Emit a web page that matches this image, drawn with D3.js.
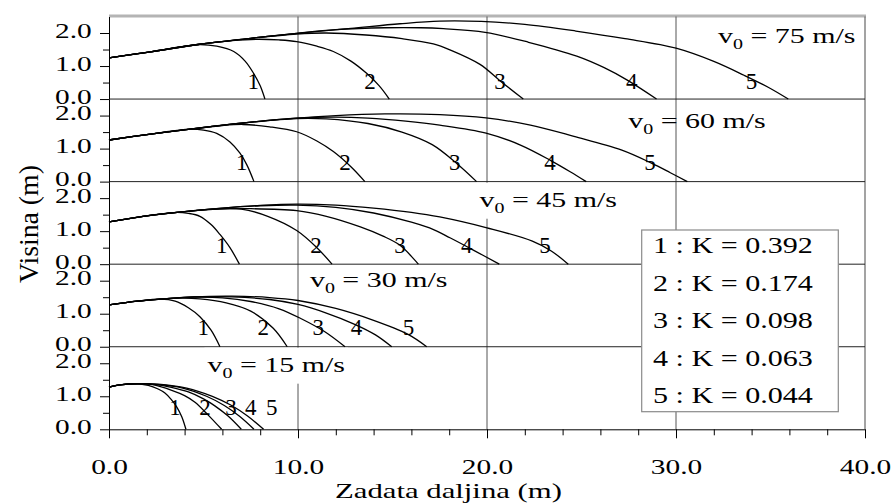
<!DOCTYPE html>
<html><head><meta charset="utf-8">
<script src="https://cdn.jsdelivr.net/npm/d3@7"></script>
<style>
html,body{margin:0;padding:0;background:#fff;}
svg{display:block;}
text{font-family:"Liberation Serif","Times New Roman",serif;fill:#000;}
</style></head><body>
<svg id="chart" width="893" height="503"></svg>
<script>
// ---------------- data ----------------
const velocities = [75, 60, 45, 30, 15];
const kValues = ["0.392", "0.174", "0.098", "0.063", "0.044"];
const curveIds = ["1", "2", "3", "4", "5"];
const xTicks = [0,2,4,6,8,10,12,14,16,18,20,22,24,26,28,30,32,34,36,38,40];
const xMajor = [0,10,20,30,40];
const yTicks = [0,0.5,1,1.5,2];
const yMajor = [0,1,2];
const xTitle = "Zadata daljina (m)";
const yTitle = "Visina (m)";

const traj75 = [
 [[0,1.25],[2.2,1.43],[4,1.6],[4.8,1.65],[5.7,1.6],[6.6,1.44],[7.2,1.15],[7.65,0.78],[8.0,0.4],[8.25,0]],
 [[0,1.25],[2.2,1.43],[4.8,1.66],[6.5,1.77],[7.8,1.81],[9.0,1.79],[9.93,1.74],[11.0,1.6],[11.87,1.44],[12.8,1.15],[13.63,0.78],[14.3,0.4],[14.83,0]],
 [[0,1.25],[2.2,1.43],[4.8,1.66],[7.5,1.84],[9.93,1.97],[11.5,2.0],[13.6,1.94],[15.5,1.83],[17.16,1.67],[18.04,1.49],[19.63,1.05],[20.7,0.55],[21.92,0]],
 [[0,1.25],[2.2,1.43],[4.8,1.66],[7.5,1.84],[9.93,1.99],[12,2.1],[14.6,2.16],[16.5,2.16],[17.7,2.13],[19.9,2.02],[22.2,1.72],[24.75,1.3],[26.2,0.95],[27.4,0.58],[28.97,0]],
 [[0,1.25],[2.2,1.43],[4.8,1.66],[7.5,1.84],[9.93,1.99],[12.8,2.14],[15.4,2.28],[17.5,2.36],[19.7,2.35],[22,2.26],[24.7,2.06],[27.3,1.83],[30.0,1.54],[32.0,1.14],[33.6,0.72],[34.9,0.35],[35.94,0]]
];
const traj60 = [
 [[0,1.26],[2.2,1.44],[3.5,1.54],[4.3,1.59],[5.0,1.56],[5.7,1.46],[6.4,1.2],[6.93,0.86],[7.3,0.5],[7.67,0]],
 [[0,1.26],[2.2,1.44],[4.3,1.59],[6,1.7],[7.1,1.73],[8.5,1.66],[9.93,1.51],[11.0,1.23],[11.87,0.91],[12.8,0.45],[13.54,0]],
 [[0,1.26],[2.2,1.44],[4.3,1.59],[7,1.77],[9.93,1.91],[11.5,1.9],[13.7,1.76],[15.5,1.5],[17.1,1.12],[18.4,0.55],[19.45,0]],
 [[0,1.26],[2.2,1.44],[4.3,1.59],[7,1.77],[9.93,1.92],[12,1.95],[13.7,1.92],[15.7,1.83],[17.5,1.71],[19.95,1.47],[21.8,1.1],[23.4,0.63],[24.4,0.3],[25.25,0]],
 [[0,1.26],[2.2,1.44],[4.3,1.59],[7,1.77],[9.93,1.92],[12,2.0],[14.6,2.05],[17.5,2.03],[19.95,1.93],[22.3,1.71],[24.6,1.37],[27.1,0.96],[28.7,0.56],[29.7,0.27],[30.6,0]]
];
const traj45 = [
 [[0,1.28],[1.8,1.45],[3.0,1.54],[3.6,1.57],[4.2,1.54],[4.81,1.45],[5.4,1.2],[5.87,0.9],[6.4,0.5],[6.9,0]],
 [[0,1.28],[1.8,1.45],[3.6,1.57],[5.5,1.67],[7.0,1.67],[8.4,1.45],[9.93,1.02],[11.0,0.5],[11.8,0]],
 [[0,1.28],[1.8,1.45],[3.6,1.57],[5.5,1.66],[7.5,1.68],[9.93,1.62],[11.5,1.45],[13.3,1.13],[14.5,0.85],[15.4,0.57],[16.37,0]],
 [[0,1.28],[1.8,1.45],[3.6,1.57],[6,1.7],[8,1.77],[9.93,1.79],[12,1.72],[14,1.55],[16,1.27],[17.2,1.04],[18.04,0.8],[19.3,0.42],[20.65,0]],
 [[0,1.28],[1.8,1.45],[3.6,1.57],[6,1.7],[8,1.78],[9.93,1.82],[12,1.79],[14,1.7],[16,1.57],[17.5,1.43],[20,1.1],[22.4,0.7],[23.4,0.4],[24.3,0]]
];
const traj30 = [
 [[0,1.27],[1.5,1.38],[2.7,1.44],[3.5,1.38],[4.2,1.18],[4.81,0.91],[5.4,0.5],[5.87,0]],
 [[0,1.27],[1.5,1.38],[2.7,1.44],[3.8,1.47],[4.8,1.45],[6.2,1.33],[7.5,1.08],[8.69,0.56],[9.43,0]],
 [[0,1.27],[1.5,1.38],[2.7,1.44],[4.5,1.5],[6,1.48],[7.5,1.37],[9,1.15],[10.2,0.84],[11.4,0.46],[12.49,0]],
 [[0,1.27],[1.5,1.38],[2.7,1.44],[4.5,1.51],[6.5,1.51],[8.5,1.43],[10,1.28],[11.5,1.02],[13,0.68],[14.1,0.36],[14.96,0]],
 [[0,1.27],[1.5,1.38],[2.7,1.44],[4.5,1.51],[6.5,1.53],[8.5,1.49],[10,1.4],[12,1.16],[14,0.8],[15.8,0.38],[16.81,0]]
];
const traj15 = [
 [[0,1.28],[0.7,1.35],[1.4,1.38],[2.08,1.33],[2.6,1.22],[2.96,1.1],[3.3,0.9],[3.58,0.68],[3.85,0.38],[4.07,0]],
 [[0,1.28],[0.7,1.35],[1.4,1.38],[2.3,1.35],[3.32,1.18],[4.0,1.02],[4.55,0.82],[5.25,0.43],[5.96,0]],
 [[0,1.28],[0.7,1.35],[1.4,1.38],[2.4,1.36],[3.3,1.27],[4.2,1.13],[5.0,0.92],[5.6,0.71],[6.3,0.4],[7.0,0]],
 [[0,1.28],[0.7,1.35],[1.4,1.38],[2.5,1.36],[3.9,1.25],[5.16,1.0],[6.1,0.72],[6.89,0.4],[7.67,0]],
 [[0,1.28],[0.7,1.35],[1.4,1.38],[2.6,1.37],[4.11,1.25],[5.47,1.0],[6.49,0.72],[7.33,0.4],[8.18,0]]
];
const trajectories = [traj75, traj60, traj45, traj30, traj15];

// curve number label anchors (data units)
const curveLabelX = [
 [7.63,13.81,20.69,27.66,34.0],
 [7.02,12.49,18.3,23.33,28.62],
 [5.96,10.95,15.4,18.93,23.07],
 [4.99,8.16,11.07,13.1,15.84],
 [3.49,5.08,6.46,7.5,8.61]
];
const curveLabelY = [0.53,0.59,0.57,0.58,0.66];

// ---------------- layout ----------------
const L = 109, R = 865, T = 16.5, B = 429.3;
const panelH = (B - T) / 5;
const svg = d3.select("#chart");
const x = d3.scaleLinear().domain([0, 40]).range([L, R]);
const ys = velocities.map((v, i) =>
  d3.scaleLinear().domain([0, 2.5]).range([T + (i + 1) * panelH, T + i * panelH]));

// v0 label anchors (data units: x, y in own panel), and whether it masks grid
const v0Layout = [
  {x: 32.22, y: 1.69, mask: false},
  {x: 27.47, y: 1.615, mask: false},
  {x: 19.6, y: 1.74, mask: true},
  {x: 10.63, y: 1.82, mask: false},
  {x: 5.21, y: 1.745, mask: true}
];
const v0Width = 137.5;
const legendBox = {x: 641.7, y: 230, w: 196.6, h: 181.7};
const legendRowY = [253, 291, 328.5, 366, 403.5];

// frame
svg.append("line").attr("x1", L).attr("x2", R + 1).attr("y1", T - 0.5).attr("y2", T - 0.5)
  .attr("stroke", "#b4b4b4").attr("stroke-width", 3);
svg.append("line").attr("x1", R).attr("x2", R).attr("y1", T).attr("y2", B)
  .attr("stroke", "#666").attr("stroke-width", 1.2);

// vertical gridlines
[10, 20, 30].forEach(g => {
  svg.append("line").attr("x1", x(g)).attr("x2", x(g)).attr("y1", T).attr("y2", B)
    .attr("stroke", "#555").attr("stroke-width", 1);
});
// panel separator lines
ys.slice(0, 4).forEach(y => {
  svg.append("line").attr("x1", L).attr("x2", R).attr("y1", y(0)).attr("y2", y(0))
    .attr("stroke", "#222").attr("stroke-width", 1);
});

// v0 label masks
velocities.forEach((v, i) => {
  const lay = v0Layout[i];
  if (lay.mask) {
    const bx = x(lay.x), by = ys[i](lay.y);
    svg.append("rect").attr("x", bx - 3).attr("y", by - 24).attr("width", v0Width + 6)
      .attr("height", 36).attr("fill", "#fff");
  }
});

// legend box
svg.append("rect").attr("x", legendBox.x).attr("y", legendBox.y)
  .attr("width", legendBox.w).attr("height", legendBox.h)
  .attr("fill", "#fff").attr("stroke", "#8a8a8a").attr("stroke-width", 1.2);

// curves
trajectories.forEach((set, i) => {
  const y = ys[i];
  const line = d3.line().x(d => x(d[0])).y(d => y(d[1])).curve(d3.curveCatmullRom.alpha(0.5));
  svg.append("g").selectAll("path").data(set).join("path")
    .attr("d", line).attr("fill", "none").attr("stroke", "#000").attr("stroke-width", 1.3);
});

// curve number labels
trajectories.forEach((set, i) => {
  const y = ys[i];
  svg.append("g").selectAll("text").data(curveIds).join("text")
    .attr("x", (d, j) => x(curveLabelX[i][j]))
    .attr("y", y(curveLabelY[i]))
    .attr("dy", "0.34em")
    .attr("text-anchor", "middle")
    .attr("font-size", 23)
    .text(d => d);
});

function stretchAround(sel, s) {
  sel.each(function () {
    const t = d3.select(this);
    const ax = +(t.attr("x") || 0);
    t.attr("transform", `translate(${ax},0) scale(${s},1) translate(${-ax},0)`);
  });
}

// v0 labels
let v0Scale = null;
velocities.forEach((v, i) => {
  const lay = v0Layout[i];
  const t = svg.append("text").attr("x", x(lay.x)).attr("y", ys[i](lay.y))
    .attr("font-size", 21);
  t.append("tspan").text("v");
  t.append("tspan").attr("font-size", 14).attr("dy", 6).text("0");
  t.append("tspan").attr("dy", -6).text(" = " + v + " m/s");
  if (v0Scale === null) v0Scale = v0Width / t.node().getComputedTextLength();
  stretchAround(t, v0Scale);
});

// legend text
const legTexts = svg.append("g").selectAll("text").data(kValues).join("text")
  .attr("x", 653).attr("y", (d, i) => legendRowY[i])
  .attr("font-size", 22.5)
  .text((d, i) => curveIds[i] + " : K = " + d);
const legScale = 160 / legTexts.node().getComputedTextLength();
stretchAround(legTexts, legScale);

// axes
const fmt = d3.format(".1f");
ys.forEach((y, i) => {
  const g = svg.append("g").attr("transform", `translate(${L},0)`)
    .call(d3.axisLeft(y).tickValues(yTicks).tickSizeInner(6).tickSizeOuter(0).tickPadding(11.3)
      .tickFormat(d => yMajor.includes(d) ? fmt(d) : ""));
  g.attr("font-family", null).attr("font-size", 20);
  g.select(".domain").attr("stroke", "#000");
  g.selectAll(".tick line").attr("stroke", "#000");
  g.selectAll(".tick").filter(d => yMajor.includes(d)).select("line").attr("x2", -9);
  g.selectAll(".tick text").attr("dy", "0.2em");
});
const gx = svg.append("g").attr("transform", `translate(0,${B})`)
  .call(d3.axisBottom(x).tickValues(xTicks).tickSizeInner(6).tickSizeOuter(0)
    .tickFormat(d => xMajor.includes(d) ? fmt(d) : ""));
gx.attr("font-family", null).attr("font-size", 20);
gx.select(".domain").attr("stroke", "#000");
gx.selectAll(".tick line").attr("stroke", "#000");
gx.selectAll(".tick").filter(d => xMajor.includes(d)).select("line").attr("y2", 9);
gx.selectAll(".tick text").attr("y", 44.7).attr("dy", 0);

// tick label stretch
const sample = svg.selectAll(".tick text").filter(function () { return d3.select(this).text() === "2.0"; }).node();
const tickScale = 36.7 / sample.getComputedTextLength();
stretchAround(svg.selectAll(".tick text"), tickScale);

// axis titles
const xt = svg.append("text").attr("x", 448.5).attr("y", 498).attr("text-anchor", "middle")
  .attr("font-size", 22).text(xTitle);
stretchAround(xt, 227 / xt.node().getComputedTextLength());

svg.append("text").attr("transform", "translate(38,224) rotate(-90)")
  .attr("text-anchor", "middle").attr("font-size", 28)
  .attr("textLength", 118).attr("lengthAdjust", "spacingAndGlyphs")
  .text(yTitle);
</script>
</body></html>
